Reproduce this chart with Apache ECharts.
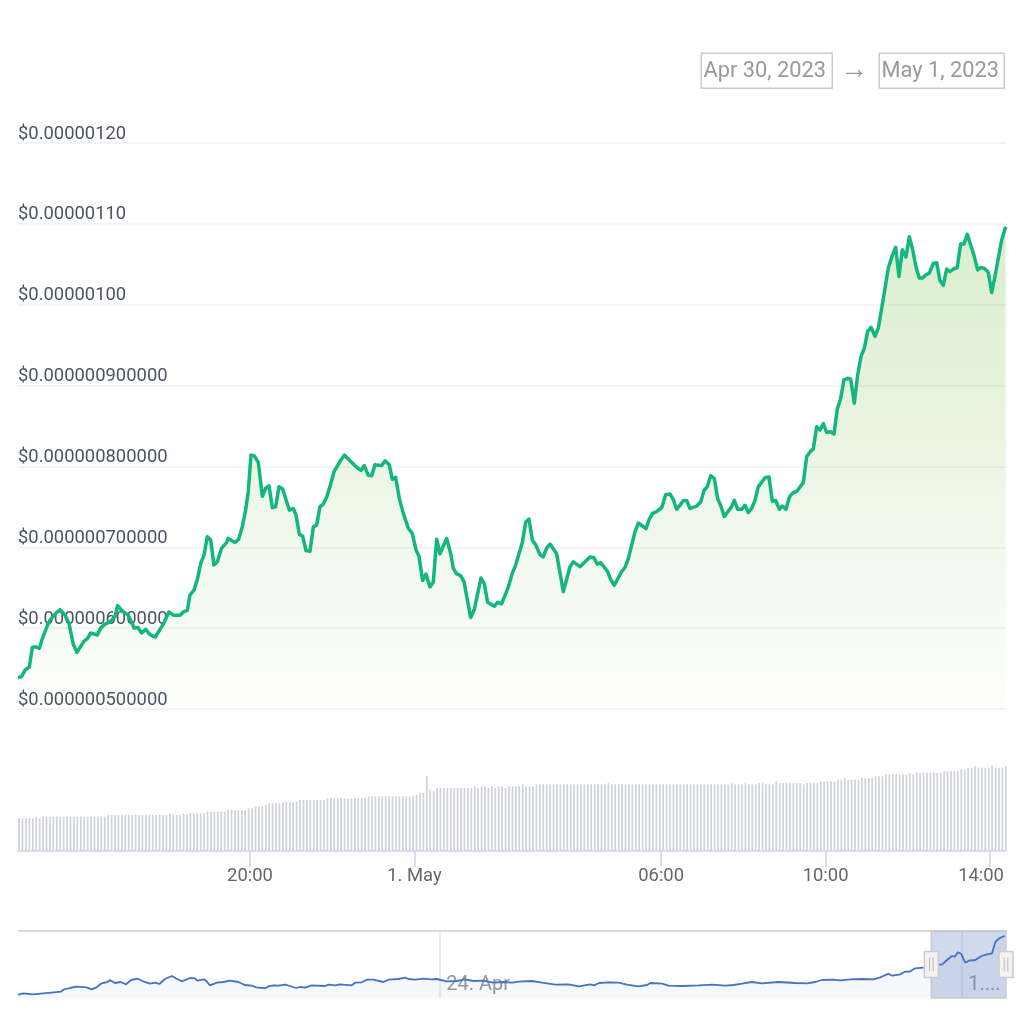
<!DOCTYPE html>
<html>
<head>
<meta charset="utf-8">
<style>html,body{margin:0;padding:0;background:#fff}#c{width:1024px;height:1024px}</style>
<script src="https://cdn.jsdelivr.net/npm/echarts@6/dist/echarts.min.js"></script>
</head>
<body>
<div id="c"></div>
<script>
// Price points: minutes after the left edge of the main axis, price in units of 1e-7 USD
const priceMinutes = [0,5.3,10.2,16.5,20.9,25.8,31.1,35.5,43.3,46.7,54,61.3,68.6,74.4,80.7,86.1,96.3,101.2,106,115.7,120.6,126.9,134.3,141.5,145.4,151.3,161,169.7,174.6,180.5,186.3,192.6,200.4,212.1,220.3,226.7,236.4,241.3,247.1,251,256.8,261.7,266.6,271.4,276.3,281.2,286,290.9,297.2,304.5,306.9,316.7,322,327.4,332.2,336.1,340,344.9,350.7,356.6,361.4,366.3,371.2,376,380.9,386.2,396,401.8,405.7,410.6,415.4,420.3,426.1,431,435.8,440.7,445.6,450.4,455.3,461.2,469.9,
476.2,484.5,494.2,500.5,505.4,511.2,516.1,521,530.7,535.6,541.9,546.3,551.1,556.5,562.3,569.6,575.5,580.8,585.2,590.5,595.4,601.2,606.1,611,615.8,625.6,631.4,635.3,640.2,646,650.9,660.6,665.9,675.7,680.5,685.4,695.1,700,705.8,715.6,721.4,726.3,736,740.9,745.7,750.6,755.5,761.8,766.6,771.5,776.4,786.1,795.8,805.6,810.4,820.2,825,834.8,840.6,845.5,850.3,860.5,865.4,870.3,881,885.8,890.7,900.4,905.3,916.5,921.4,926.2,932,939.4,945.2,951.5,956.4,961.2,966.1,
971,975.8,980.7,990.4,996.3,1001.1,1006,1010.9,1016.2,1021.1,1025.4,1030.8,1040.5,1045.4,1050.3,1056.1,1061,1065.8,1070.7,1075.6,1080.4,1090.2,1096,1100.9,1105.7,1111.1,1115.4,1120.8,1125.7,1130.5,1136.4,1146.1,1151,1155.8,1160.7,1165.6,1170.4,1175.3,1180.1,1186,1190.9,1195.7,1200.6,1205.4,1210.8,1215.2,1220.5,1225.4,1230.3,1235.1,1240,1244.9,1250.7,1255.5,1260.4,1265.3,1270.1,1276,1280.8,1285.7,1290.6,1295.9,1300.8,1305.7,1310.5,1315.4,1320.2,1325.1,1330,1335.8,1340.7,1345.5,1350.4,1355.3,1360.1,1365,1370.8,1375.7,1380.6,1385.4,1390.3,1395.2,1400.5,1405.4,1410.3,1416.1,1421,1425.8,1435.6,1441.4];
const priceUnits = [5.39,5.40,5.48,5.52,5.76,5.77,5.75,5.87,6.04,6.10,6.175,6.23,6.16,6.06,5.80,5.70,5.84,5.87,5.94,5.915,6.00,6.05,6.08,6.14,6.28,6.22,6.16,6.00,6.01,5.94,5.985,5.92,5.89,6.05,6.20,6.16,6.16,6.20,6.22,6.41,6.47,6.60,6.80,6.90,7.13,7.09,6.78,6.82,6.99,7.06,7.11,7.06,7.10,7.255,7.46,7.69,8.14,8.13,8.05,7.63,7.73,7.76,7.49,7.50,7.75,7.72,7.46,7.48,7.40,7.16,7.14,6.96,6.95,7.25,7.275,7.50,7.535,7.62,7.75,7.935,8.06,
8.14,8.07,7.99,7.95,8.01,7.89,7.885,8.02,8.01,8.07,8.02,7.84,7.865,7.605,7.42,7.235,7.17,6.97,6.89,6.59,6.67,6.51,6.57,7.10,6.92,7.11,6.925,6.74,6.67,6.65,6.575,6.13,6.23,6.62,6.55,6.32,6.27,6.32,6.30,6.51,6.68,6.78,7.06,7.31,7.35,7.09,7.03,6.91,6.88,6.99,7.04,6.92,6.45,6.76,6.82,6.76,6.80,6.88,6.87,6.79,6.81,6.70,6.595,6.53,6.70,6.75,6.86,7.19,7.30,7.23,7.35,7.42,7.44,7.49,7.65,7.66,7.59,7.47,7.52,
7.58,7.58,7.48,7.51,7.56,7.70,7.75,7.885,7.85,7.60,7.52,7.38,7.49,7.58,7.47,7.47,7.52,7.43,7.48,7.58,7.75,7.86,7.87,7.57,7.58,7.47,7.51,7.47,7.62,7.67,7.69,7.80,8.12,8.18,8.22,8.49,8.45,8.53,8.42,8.43,8.40,8.71,8.84,9.07,9.09,9.08,8.78,9.13,9.36,9.46,9.67,9.72,9.61,9.71,9.95,10.20,10.45,10.61,10.71,10.35,10.68,10.59,10.84,10.68,10.47,10.33,10.33,10.37,10.39,10.51,10.52,10.30,10.24,10.44,10.41,10.44,10.46,10.75,10.75,10.87,10.74,10.61,10.43,10.46,10.45,10.40,10.15,10.35,10.80,10.965];

// Volume, one bar per five minutes (relative units)
const volumes = [
98,98,98,98,98,102,98,
103,103,103,103,103,103,103,103,103,103,103,103,103,103,103,103,103,103,103,
108,108,108,108,108,108,108,108,108,108,108,108,108,108,108,108,108,108,112,108,108,108,112,108,
113,113,113,113,113,118,118,118,118,118,118,123,123,123,123,123,123,128,128,133,133,133,138,143,143,143,143,
148,148,148,148,148,153,153,153,153,153,153,153,153,
158,158,158,158,158,158,158,158,158,158,158,158,
164,164,164,164,164,164,164,164,164,164,164,164,164,164,170,174,174,225,184,179,
189,189,189,189,189,189,189,189,189,189,189,194,189,194,194,189,194,189,194,194,189,194,194,194,194,200,194,194,194,
200,200,200,200,200,200,200,200,200,200,200,200,200,200,200,200,200,200,200,200,200,204,
200,200,200,200,200,200,200,200,200,200,200,200,200,200,200,200,200,200,200,200,200,200,200,200,200,200,200,200,200,200,200,200,200,200,200,
204,200,200,200,204,200,200,200,204,204,200,200,200,209,204,204,204,204,204,204,204,200,204,204,204,204,
209,209,209,209,209,214,214,219,214,214,214,214,219,219,219,219,224,224,224,
230,230,230,230,230,230,230,235,230,235,235,235,235,235,235,235,235,240,240,240,240,240,245,245,250,250,255,250,250,250,250,255,250,250,250,255];

// Overview strip: hours after its left edge, height level (relative units)
const navHours = [0,1.7,4.9,8.1,11.4,13.8,14.6,16.7,18.7,22.1,23.7,25.3,26.9,28.8,29.6,31.2,33,34.8,36.4,38.5,40.3,42.5,44.1,45.5,47.3,49.5,51.1,52.7,55.4,57,57.7,59.9,60.7,61.8,64,66.1,68.2,70.9,73,75.2,76.8,79.7,80.6,82.2,83.8,86,87.5,89.5,90.8,92.4,94.5,98.8,99.9,102,103.6,107.4,108.5,110.6,112.2,114.4,117.6,119.2,122.4,124.6,125.6,127.8,130.5,133.1,134.8,138,141.2,143.9,146.6,149.8,153,156.2,159,161.1,165.4,168.7,172.9,177.2,180.5,184.2,185.3,187.1,190.1,193.3,196,199.6,202.5,203.5,207.3,209.4,213.7,219.1,223.4,227.7,230.3,233,236.2,239.5,244.8,250.2,253.9,256.6,258.8,262,264.7,267.9,271.6,275.4,277.5,280.2,281.3,284,285.4,286.9,288.8,291.2,292.6,296.3,297.4,299,300.6,301.5,302.5,303.6,304.9,306,308.1,310.1,311.9,313.5,314.6,315.9,317.6];
const navLevels = [3.3,4.7,3.7,4.7,5.7,6.3,8.3,10,11.3,10.7,8.7,10.7,14.7,16,18,15,16,13.7,18,19.3,16.7,14.3,15.3,14,19,22,19.3,16.7,20,19.7,17.3,18.7,16.7,12.7,15.3,16,17.3,16,13,12.3,10.7,9.7,11.7,12.7,12.3,13.3,12,10,11,10.3,12.7,12,13.3,12.7,13.7,12.7,15.3,15.7,18.3,18.3,16,18.3,19,20.3,19,18.3,19.3,18.7,19,16.7,17,18.7,17,17.3,15.3,16,15.3,16.3,17,15.3,13.3,13.7,11.7,13.7,12.7,15,15.7,15.3,13.3,11.7,13,15,14.3,12.3,12,12.7,13.3,12.3,13,14.3,16,14.7,16,15,14.7,16,18,18.3,17.7,18.7,19,18.7,20.7,24.3,22.3,23.7,26.3,26.3,29.7,30.3,30.3,33.7,33.3,38,42,41.3,45.7,44,35.3,37.3,38,42,43.7,44.7,56.3,59.7,62.3];

// Tick labels
const yTickValues = [5,6,7,8,9,10,11,12];
const yTickLabels = ['$0.000000500000','$0.000000600000','$0.000000700000','$0.000000800000','$0.000000900000','$0.00000100','$0.00000110','$0.00000120'];
const xTickTimes = [Date.UTC(2023,3,30,20),Date.UTC(2023,4,1,0),Date.UTC(2023,4,1,6),Date.UTC(2023,4,1,10),Date.UTC(2023,4,1,14)];
const xTickLabels = ['20:00','1. May','06:00','10:00','14:00'];
const navTickTimes = [Date.UTC(2023,3,24),Date.UTC(2023,4,1)];
const navTickLabels = ['24. Apr','1....'];
const rangeLabels = ['Apr 30, 2023','May 1, 2023'];

const MIN = 60000, HOUR = 3600000;
const axisStart = Date.UTC(2023,3,30,14,21,24);
const axisEnd = axisStart + 1441.9*MIN;
const firstBar = Date.UTC(2023,3,30,14,23);
const navEnd = axisEnd;
const navStart = navEnd - 318*HOUR;

const priceData = priceMinutes.map((m,i)=>[axisStart+m*MIN, priceUnits[i]]);
const volumeData = volumes.map((v,i)=>[firstBar+i*5*MIN, v]);
const navData = navHours.map((h,i)=>[navStart+h*HOUR, navLevels[i]]);

const FONT = 'Roboto';
const chart = echarts.init(document.getElementById('c'), null, {renderer:'canvas', width:1024, height:1024});

chart.setOption({
  animation:false,
  backgroundColor:'#fff',
  grid:[
    {left:18, width:988, top:143, height:566},
    {left:18, width:988, top:751, height:100},
    {left:18, width:988, top:931, height:67}
  ],
  xAxis:[
    {type:'value', gridIndex:0, min:axisStart, max:axisEnd, show:false, splitLine:{show:false}},
    {type:'value', gridIndex:1, min:axisStart, max:axisEnd,
      axisLine:{show:true, lineStyle:{color:'#ccd6eb', width:1.5}},
      axisTick:{show:true, customValues:xTickTimes, length:16, lineStyle:{color:'#ccd6eb', width:1.5}},
      splitLine:{show:false},
      axisLabel:{customValues:xTickTimes, margin:16, color:'#666666', fontFamily:FONT, fontSize:18.4, hideOverlap:false,
        showMinLabel:true, showMaxLabel:true,
        formatter:v=>{
          const i = xTickTimes.indexOf(v);
          const t = xTickLabels[i];
          return i===xTickLabels.length-1 ? '{s|'+t+'}' : t;
        },
        rich:{s:{padding:[0,18,0,0], color:'#666666', fontFamily:FONT, fontSize:18.4}}
      }
    },
    {type:'value', gridIndex:2, min:navStart, max:navEnd,
      axisLine:{show:false},
      axisTick:{show:false, customValues:navTickTimes},
      splitLine:{show:true, lineStyle:{color:'#e6e6e6', width:1.5}},
      axisLabel:{customValues:navTickTimes, inside:true, margin:3, align:'left', padding:[0,0,0,7], color:'#999999', fontFamily:FONT, fontSize:20,
        hideOverlap:false, showMinLabel:true, showMaxLabel:true,
        formatter:v=>navTickLabels[navTickTimes.indexOf(v)]}
    }
  ],
  yAxis:[
    {type:'value', gridIndex:0, min:5, max:12, interval:1,
      axisLine:{show:false}, axisTick:{show:false},
      splitLine:{lineStyle:{color:'#f0f0f0', width:1.5}},
      axisLabel:{inside:true, margin:0, align:'left', verticalAlign:'bottom', color:'#4b5563', fontFamily:FONT, fontSize:18.4,
        formatter:v=>yTickLabels[yTickValues.indexOf(v)]}
    },
    {type:'value', gridIndex:1, min:0, max:300, show:false, splitLine:{show:false}},
    {type:'value', gridIndex:2, min:0, max:67, interval:67,
      axisLine:{show:false}, axisTick:{show:false}, axisLabel:{show:false},
      splitLine:{show:true, showMinLine:false, showMaxLine:true, lineStyle:{color:'#cccccc', width:1.5}}
    }
  ],
  series:[
    {type:'line', xAxisIndex:0, yAxisIndex:0, data:priceData, showSymbol:false, smooth:false,
      lineStyle:{color:'#13b67e', width:3.5, join:'round'},
      areaStyle:{origin:'start', color:new echarts.graphic.LinearGradient(0,0,0,1,[
        {offset:0,color:'rgba(130,195,85,0.42)'},{offset:1,color:'rgba(130,195,85,0.02)'}])}
    },
    {type:'bar', xAxisIndex:1, yAxisIndex:1, data:volumeData, barWidth:1.7, itemStyle:{color:'#cfd2da'}},
    {type:'line', xAxisIndex:2, yAxisIndex:2, data:navData, showSymbol:false,
      lineStyle:{color:'#4472c4', width:1.8},
      areaStyle:{origin:'start', color:'rgba(63,111,192,0.05)', opacity:1},
      markArea:{silent:true, itemStyle:{color:'rgba(102,133,194,0.3)', borderColor:'#cccccc', borderWidth:1.5},
        data:[[{xAxis:axisStart, yAxis:0},{xAxis:axisEnd, yAxis:67}]]}
    },
    {type:'custom', xAxisIndex:2, yAxisIndex:2, z:10, silent:true, clip:false,
      data:[[axisStart,33.5],[axisEnd,33.5]],
      renderItem:(p,api)=>{
        const c = api.coord([api.value(0),api.value(1)]);
        const stroke = {stroke:'#cccccc', lineWidth:1.5};
        return {type:'group', children:[
          {type:'rect', shape:{x:c[0]-7, y:c[1]-13, width:14, height:26}, style:Object.assign({fill:'#f2f2f2'},stroke)},
          {type:'line', shape:{x1:c[0]-1.8,y1:c[1]-7,x2:c[0]-1.8,y2:c[1]+7}, style:{stroke:'#bbbbbb',lineWidth:1}},
          {type:'line', shape:{x1:c[0]+1.8,y1:c[1]-7,x2:c[0]+1.8,y2:c[1]+7}, style:{stroke:'#bbbbbb',lineWidth:1}}
        ]};
      }
    }
  ],
  graphic:[
    {type:'rect', left:700.5, top:52.5, shape:{width:131, height:35}, style:{fill:'#fff', stroke:'#cccccc', lineWidth:1.5}},
    {type:'text', x:703.5, y:71.5, style:{text:rangeLabels[0], fill:'#999999', font:'21.8px '+FONT, textVerticalAlign:'middle'}},
    {type:'text', x:854, y:71, style:{text:'→', fill:'#999999', font:'28px '+FONT, textAlign:'center', textVerticalAlign:'middle'}},
    {type:'rect', left:878.5, top:52.5, shape:{width:125, height:35}, style:{fill:'#fff', stroke:'#cccccc', lineWidth:1.5}},
    {type:'text', x:881.5, y:71.5, style:{text:rangeLabels[1], fill:'#999999', font:'21.8px '+FONT, textVerticalAlign:'middle'}}
  ]
});
</script>
</body>
</html>
